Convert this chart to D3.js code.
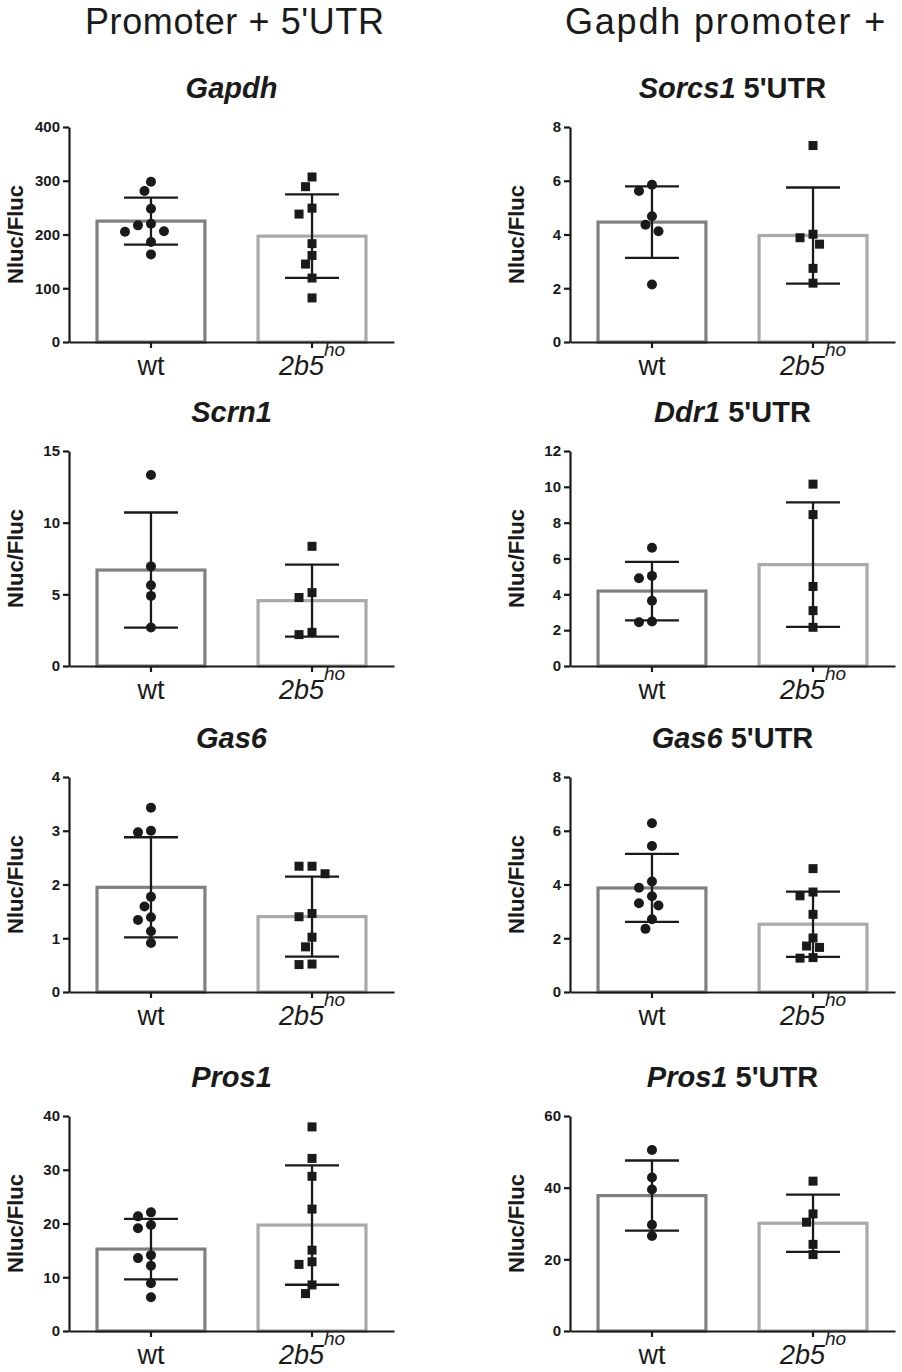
<!DOCTYPE html>
<html>
<head>
<meta charset="utf-8">
<script src="https://cdn.jsdelivr.net/npm/d3@7"></script>
<style>
body { margin: 0; background: #fff; }
svg { display: block; }
text { font-family: "Liberation Sans", Arial, Helvetica, sans-serif; fill: #1a1a1a; }
</style>
</head>
<body>
<div id="chart"></div>
<script>
// data, panels in reading order (row by row)
var groups = ["wt", "2b5"];
var headers = ["Promoter + 5'UTR", "Gapdh promoter +"];
var genes = ["Gapdh", "Sorcs1", "Scrn1", "Ddr1", "Gas6", "Gas6", "Pros1", "Pros1"];
var suffix = ["", " 5'UTR", "", " 5'UTR", "", " 5'UTR", "", " 5'UTR"];
var yMax = [400, 8, 15, 12, 4, 8, 40, 60];
var yStep = [100, 2, 5, 2, 1, 2, 10, 20];

var wtValues = [
  [298, 281, 248, 220, 217, 206, 205, 186, 163],
  [5.85, 5.62, 4.68, 4.36, 4.12, 2.14],
  [13.32, 6.95, 5.63, 4.89, 2.68],
  [6.6, 5.03, 4.9, 3.64, 2.48, 2.44],
  [3.43, 3.0, 2.97, 1.77, 1.59, 1.39, 1.34, 1.13, 0.91],
  [6.28, 5.43, 4.11, 3.88, 3.56, 3.30, 3.22, 2.71, 2.35],
  [22.07, 21.33, 19.72, 19.1, 14.11, 13.56, 12.14, 8.88, 6.29],
  [50.49, 42.83, 39.51, 29.63, 26.49]
];
var koValues = [
  [307, 289, 249, 238, 183, 161, 145, 119, 82],
  [7.31, 4.01, 3.88, 3.64, 2.74, 2.19],
  [8.35, 5.12, 4.78, 2.35, 2.19],
  [10.15, 8.45, 4.44, 3.09, 2.16],
  [2.34, 2.34, 2.2, 1.46, 1.40, 1.02, 0.84, 0.52, 0.51],
  [4.59, 3.72, 3.58, 2.89, 2.01, 1.71, 1.66, 1.28, 1.26],
  [37.97, 32.11, 28.78, 22.68, 15.04, 12.88, 12.39, 8.57, 6.96],
  [41.82, 32.68, 30.37, 24.18, 21.32]
];

var W = 902, H = 1372;
var axisX = [69, 570];
var rowTop = [127, 451, 777, 1116];
var plotW = 325, plotH = 215;
var ink = "#1a1a1a";
var barStroke = { "wt": "#808080", "2b5": "#a9a9a9" };

var svg = d3.select("#chart").append("svg")
  .attr("width", W)
  .attr("height", H);

svg.selectAll("text.header")
  .data(headers)
  .enter().append("text")
  .attr("class", "header")
  .attr("x", function(d, i){ return i == 0 ? 85 : 565; })
  .attr("y", 34)
  .style("font-size", "36px")
  .style("letter-spacing", function(d, i){ return i == 0 ? "0.6px" : "1.8px"; })
  .text(function(d){ return d; });

// simple beeswarm: push a point sideways until it no longer overlaps
function swarm(vals, y, diam, step){
  var order = d3.range(vals.length).sort(function(a, b){ return vals[b] - vals[a]; });
  var placed = [], off = [];
  order.forEach(function(i){
    var py = y(vals[i]);
    for (var k = 0; k < 30; k++) {
      var o = k == 0 ? 0 : (k % 2 ? -1 : 1) * Math.ceil(k / 2) * step;
      var free = placed.every(function(p){
        return (p[0] - o) * (p[0] - o) + (p[1] - py) * (p[1] - py) >= diam * diam;
      });
      if (free) { off[i] = o; placed.push([o, py]); break; }
    }
  });
  return off;
}

genes.forEach(function(gene, i){
  var col = i % 2, row = Math.floor(i / 2);
  var g = svg.append("g")
    .attr("transform", "translate(" + axisX[col] + "," + rowTop[row] + ")");

  var y = d3.scaleLinear().domain([0, yMax[i]]).range([plotH, 0]);
  var x = d3.scaleBand().domain(groups).range([0, plotW])
    .paddingInner(0.33).paddingOuter(0.174);

  var series = [
    { key: "wt", vals: wtValues[i] },
    { key: "2b5", vals: koValues[i] }
  ];
  series.forEach(function(s){
    s.mean = d3.mean(s.vals);
    s.sd = d3.deviation(s.vals);
  });

  // title
  var t = g.append("text")
    .attr("x", plotW / 2)
    .attr("y", -29)
    .attr("text-anchor", "middle")
    .style("font-size", "29px")
    .style("font-weight", "bold");
  t.append("tspan").style("font-style", "italic").text(gene);
  if (suffix[i]) t.append("tspan").text(suffix[i]);

  // bars
  g.selectAll("rect.bar")
    .data(series)
    .enter().append("rect")
    .attr("class", "bar")
    .attr("x", function(d){ return x(d.key); })
    .attr("y", function(d){ return y(d.mean); })
    .attr("width", x.bandwidth())
    .attr("height", function(d){ return plotH - y(d.mean); })
    .style("fill", "#fff")
    .style("stroke", function(d){ return barStroke[d.key]; })
    .style("stroke-width", 3.2);

  // points
  series.forEach(function(s){
    var cx = x(s.key) + x.bandwidth() / 2;
    var off = swarm(s.vals, y, 10, 6.5);
    if (s.key == "wt") {
      g.selectAll("circle.pt")
        .data(s.vals)
        .enter().append("circle")
        .attr("class", "pt")
        .attr("cx", function(d, j){ return cx + off[j]; })
        .attr("cy", function(d){ return y(d); })
        .attr("r", 5)
        .style("fill", ink);
    } else {
      g.selectAll("rect.pt")
        .data(s.vals)
        .enter().append("rect")
        .attr("class", "pt")
        .attr("x", function(d, j){ return cx + off[j] - 4.5; })
        .attr("y", function(d){ return y(d) - 4.5; })
        .attr("width", 9)
        .attr("height", 9)
        .style("fill", ink);
    }
  });

  // error bars (mean +/- SD)
  var eb = g.selectAll("g.err")
    .data(series)
    .enter().append("g")
    .attr("class", "err")
    .attr("transform", function(d){ return "translate(" + (x(d.key) + x.bandwidth() / 2) + ",0)"; })
    .style("stroke", ink)
    .style("stroke-width", 2.3);
  eb.append("line")
    .attr("y1", function(d){ return y(d.mean - d.sd); })
    .attr("y2", function(d){ return y(d.mean + d.sd); });
  eb.append("line")
    .attr("x1", -27).attr("x2", 27)
    .attr("y1", function(d){ return y(d.mean + d.sd); })
    .attr("y2", function(d){ return y(d.mean + d.sd); });
  eb.append("line")
    .attr("x1", -27).attr("x2", 27)
    .attr("y1", function(d){ return y(d.mean - d.sd); })
    .attr("y2", function(d){ return y(d.mean - d.sd); });

  // axes
  var ya = g.append("g")
    .call(d3.axisLeft(y)
      .tickValues(d3.range(0, yMax[i] + yStep[i] / 2, yStep[i]))
      .tickFormat(d3.format("d"))
      .tickSize(6).tickSizeOuter(0).tickPadding(3));
  var xa = g.append("g")
    .attr("transform", "translate(0," + plotH + ")")
    .call(d3.axisBottom(x).tickSize(6).tickSizeOuter(0).tickFormat(""));
  [ya, xa].forEach(function(a){
    a.select(".domain").style("stroke", ink).style("stroke-width", 2.2);
    a.selectAll(".tick line").style("stroke", ink).style("stroke-width", 2.2);
  });
  ya.selectAll(".tick text")
    .style("font-size", "15px")
    .style("font-weight", "bold")
    .style("fill", ink);

  // group labels
  g.selectAll("text.grp")
    .data(groups)
    .enter().append("text")
    .attr("class", "grp")
    .attr("x", function(d){ return x(d) + x.bandwidth() / 2; })
    .attr("y", plotH + 33)
    .attr("text-anchor", "middle")
    .style("font-size", "27px")
    .each(function(d){
      var el = d3.select(this);
      if (d == "wt") { el.text(d); return; }
      el.append("tspan").style("font-style", "italic").text(d);
      el.append("tspan").style("font-style", "italic")
        .style("font-size", "19px").attr("dy", -19).text("ho");
    });

  // y title
  g.append("text")
    .attr("transform", "translate(-46," + (plotH / 2) + ") rotate(-90)")
    .attr("text-anchor", "middle")
    .style("font-size", "22px")
    .style("font-weight", "bold")
    .text("Nluc/Fluc");
});
</script>
</body>
</html>
